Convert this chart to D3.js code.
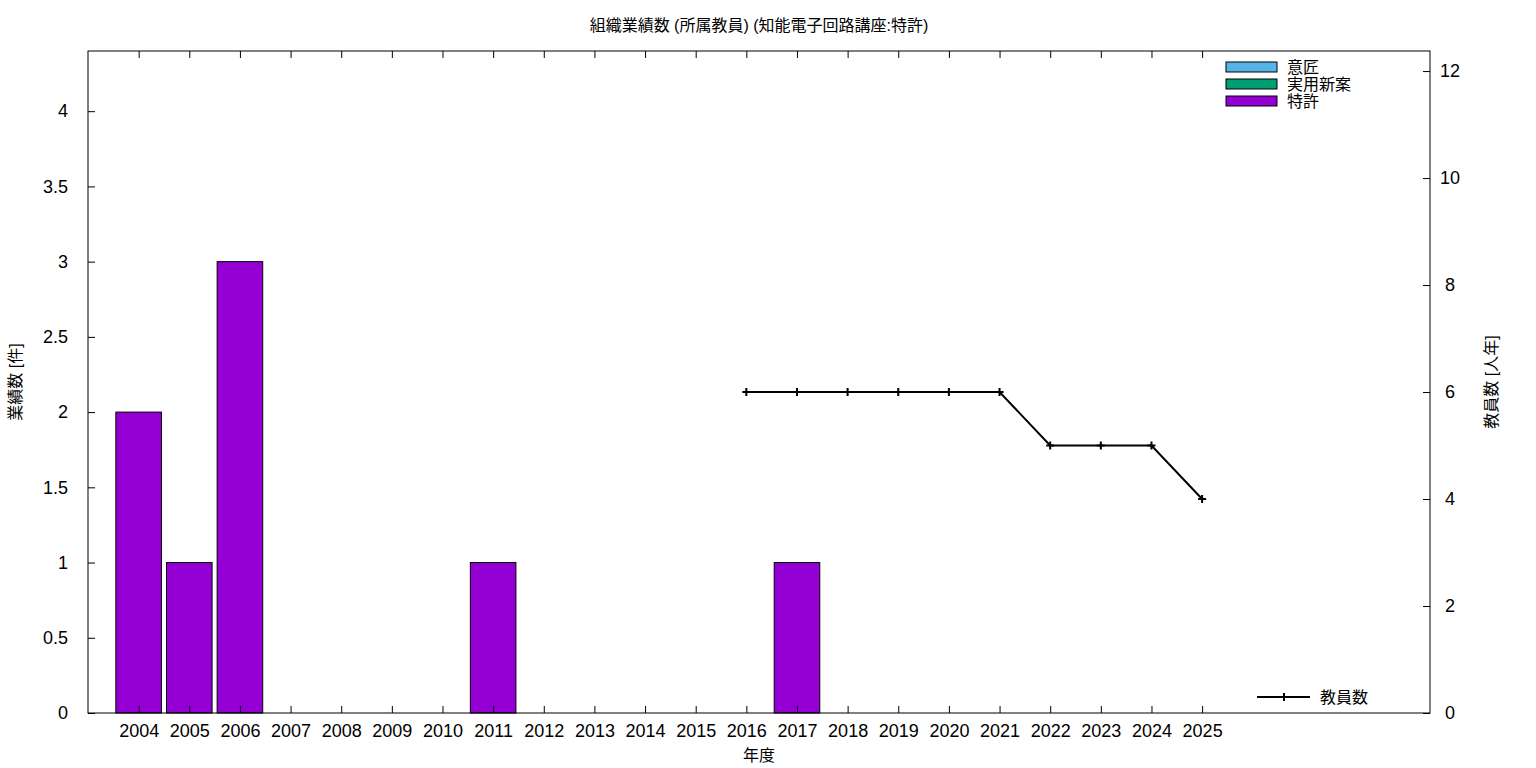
<!DOCTYPE html>
<html><head><meta charset="utf-8">
<script src="https://cdn.jsdelivr.net/npm/d3@7"></script>
<style>
body{margin:0;background:#fff;}
text{font-family:"Liberation Sans","Noto Sans CJK JP",sans-serif;fill:#000;}
</style></head><body>
<svg id="c" width="1536" height="768"></svg>
<script>
const years = ["2004","2005","2006","2007","2008","2009","2010","2011","2012","2013","2014","2015","2016","2017","2018","2019","2020","2021","2022","2023","2024","2025"];
const design = [0,0,0,0,0,0,0,0,0,0,0,0,0,0,0,0,0,0,0,0,0,0];
const utility = [0,0,0,0,0,0,0,0,0,0,0,0,0,0,0,0,0,0,0,0,0,0];
const patent = [2,1,3,0,0,0,0,1,0,0,0,0,0,1,0,0,0,0,0,0,0,0];
const staffYears = ["2016","2017","2018","2019","2020","2021","2022","2023","2024","2025"];
const staff = [6,6,6,6,6,6,5,5,5,4];
const yTicks = [0,0.5,1,1.5,2,2.5,3,3.5,4];
const y2Ticks = [0,2,4,6,8,10,12];
const seriesNames = ["意匠","実用新案","特許"];
const seriesColors = ["#56b4e9","#009e73","#9400d3"];

const svg = d3.select("#c");
const L=88,R=1430,T=51,B=713;
const x = d3.scaleLinear().domain([-1,25.5]).range([L,R]);
const y = d3.scaleLinear().domain([0,4.4]).range([B,T]);
const y2 = d3.scaleLinear().domain([0,12.375]).range([B,T]);
const bw = (x(1)-x(0))*0.9;

// bars (stacked: design, utility, patent)
years.forEach((yr,i)=>{
  let base=0;
  [design,utility,patent].forEach((s,k)=>{
    const v=s[i];
    if(v>0){
      svg.append("rect").attr("x",x(i)-bw/2).attr("y",y(base+v)).attr("width",bw).attr("height",y(base)-y(base+v))
        .attr("fill",seriesColors[k]).attr("stroke","#000").attr("stroke-width",1);
    }
    base+=v;
  });
});

// frame
svg.append("rect").attr("x",L).attr("y",T).attr("width",R-L).attr("height",B-T).attr("fill","none").attr("stroke","#000").attr("stroke-width",1);

// axes
const fs="18px";
const xb = svg.append("g").attr("transform",`translate(0,${B})`)
  .call(d3.axisBottom(x).tickValues(d3.range(years.length)).tickFormat(i=>years[i]).tickSizeInner(-7).tickSizeOuter(0).tickPadding(11));
const xt = svg.append("g").attr("transform",`translate(0,${T})`)
  .call(d3.axisTop(x).tickValues(d3.range(years.length)).tickFormat("").tickSizeInner(-7).tickSizeOuter(0));
const yl = svg.append("g").attr("transform",`translate(${L},0)`)
  .call(d3.axisLeft(y).tickValues(yTicks).tickFormat(d=>String(d)).tickSizeInner(-7).tickSizeOuter(0).tickPadding(20));
const yr2 = svg.append("g").attr("transform",`translate(${R},0)`)
  .call(d3.axisRight(y2).tickValues(y2Ticks).tickFormat(d=>String(d)).tickSizeInner(-7).tickSizeOuter(0).tickPadding(13));
[xb,xt,yl,yr2].forEach(g=>{
  g.select(".domain").remove();
  g.selectAll("line").attr("stroke","#000");
  g.selectAll("text").style("font-size",fs).style("font-family","Liberation Sans, sans-serif");
});
yr2.selectAll("text").attr("text-anchor","middle").attr("x",20);

// staff line
const idx = staffYears.map(s=>years.indexOf(s));
const line = d3.line().x((d,i)=>x(idx[i])).y(d=>y2(d));
svg.append("path").datum(staff).attr("d",line).attr("fill","none").attr("stroke","#000").attr("stroke-width",2);
staff.forEach((v,i)=>{
  const cx=x(idx[i]), cy=y2(v);
  svg.append("path").attr("d",`M${cx-4},${cy}H${cx+4}M${cx},${cy-4}V${cy+4}`).attr("stroke","#000").attr("stroke-width",2);
});

// title & labels
svg.append("text").attr("x",(L+R)/2).attr("y",31).attr("text-anchor","middle").style("font-size","16px").text("組織業績数 (所属教員) (知能電子回路講座:特許)");
svg.append("text").attr("x",(L+R)/2).attr("y",761).attr("text-anchor","middle").style("font-size","16px").text("年度");
svg.append("text").attr("transform",`translate(21,${(T+B)/2}) rotate(-90)`).attr("text-anchor","middle").style("font-size","16px").text("業績数 [件]");
svg.append("text").attr("transform",`translate(1497,${(T+B)/2}) rotate(-90)`).attr("text-anchor","middle").style("font-size","16px").text("教員数 [人年]");

// legend bars
seriesNames.forEach((n,k)=>{
  const yy=62+k*17;
  svg.append("rect").attr("x",1226).attr("y",yy).attr("width",51).attr("height",10).attr("fill",seriesColors[k]).attr("stroke","#000").attr("stroke-width",1);
  svg.append("text").attr("x",1287).attr("y",yy+11).style("font-size","16px").text(n);
});
// legend line
svg.append("path").attr("d","M1257,697H1310").attr("stroke","#000").attr("stroke-width",2);
svg.append("path").attr("d","M1284,693V701").attr("stroke","#000").attr("stroke-width",2);
svg.append("text").attr("x",1320).attr("y",703).style("font-size","16px").text("教員数");
</script></body></html>
